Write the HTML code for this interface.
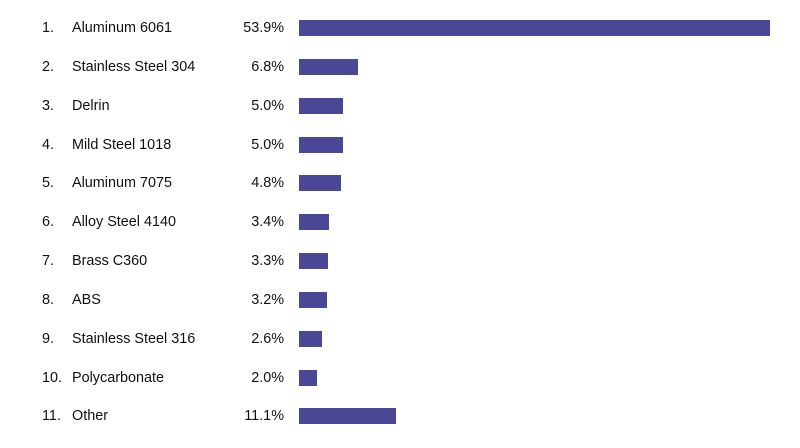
<!DOCTYPE html>
<html><head><style>
body{margin:0;width:800px;height:448px;background:#fff;font-family:"Liberation Sans",sans-serif;font-size:14.4px;color:#111;position:relative;overflow:hidden}
.r{position:absolute;left:0;width:800px;height:16px}
.n{position:absolute;left:42px;top:0;line-height:16px}
.l{position:absolute;left:72px;top:0;line-height:16px}
.p{position:absolute;right:516px;top:0;line-height:16px;text-align:right}
.b{position:absolute;left:299px;top:0;height:16px;background:#4a4797}
</style></head><body>
<div class="r" style="top:20px"><span class="n">1.</span><span class="l">Aluminum 6061</span><span class="p">53.9%</span><div class="b" style="width:471px"></div></div>
<div class="r" style="top:59px"><span class="n">2.</span><span class="l">Stainless Steel 304</span><span class="p">6.8%</span><div class="b" style="width:59px"></div></div>
<div class="r" style="top:98px"><span class="n">3.</span><span class="l">Delrin</span><span class="p">5.0%</span><div class="b" style="width:44px"></div></div>
<div class="r" style="top:137px"><span class="n">4.</span><span class="l">Mild Steel 1018</span><span class="p">5.0%</span><div class="b" style="width:44px"></div></div>
<div class="r" style="top:175px"><span class="n">5.</span><span class="l">Aluminum 7075</span><span class="p">4.8%</span><div class="b" style="width:42px"></div></div>
<div class="r" style="top:214px"><span class="n">6.</span><span class="l">Alloy Steel 4140</span><span class="p">3.4%</span><div class="b" style="width:30px"></div></div>
<div class="r" style="top:253px"><span class="n">7.</span><span class="l">Brass C360</span><span class="p">3.3%</span><div class="b" style="width:29px"></div></div>
<div class="r" style="top:292px"><span class="n">8.</span><span class="l">ABS</span><span class="p">3.2%</span><div class="b" style="width:28px"></div></div>
<div class="r" style="top:331px"><span class="n">9.</span><span class="l">Stainless Steel 316</span><span class="p">2.6%</span><div class="b" style="width:23px"></div></div>
<div class="r" style="top:370px"><span class="n">10.</span><span class="l">Polycarbonate</span><span class="p">2.0%</span><div class="b" style="width:18px"></div></div>
<div class="r" style="top:408px"><span class="n">11.</span><span class="l">Other</span><span class="p">11.1%</span><div class="b" style="width:97px"></div></div>
</body></html>
